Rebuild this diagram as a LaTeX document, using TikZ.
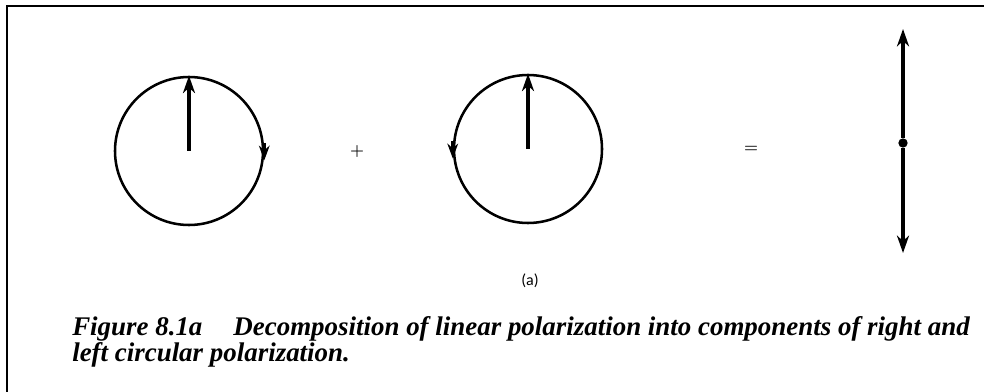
\documentclass[tikz,border=0pt]{standalone}
\usepackage{fontspec}
\setmainfont{Latin Modern Roman}
\newfontfamily\capfont{Liberation Serif}
\newfontfamily\labfont{Carlito}
\usetikzlibrary{arrows.meta}

\begin{document}
\begin{tikzpicture}[x=0.75pt, y=-0.75pt,
    ring/.style={draw, circle, line width=1.9pt, minimum size=111pt, inner sep=0pt},
    vec/.style={line width=2.8pt, -{Stealth[length=13pt, width=9pt, inset=4pt]}},
    turn/.style={line width=1.9pt, -{Stealth[length=11pt, width=8pt, inset=3.5pt]}},
    dot/.style={circle, fill, inner sep=0pt, minimum size=7pt},
    sign/.style={font=\large\bfseries, inner sep=0pt}]
      \useasboundingbox (0,0) rectangle (984,392);
      \draw[line width=1.8pt] (7,392) -- (7,6) -- (984,6);
      % right and left circular components
      \node[ring] (right) at (189,151) {};
      \node[ring] (left) at (528,149) {};
      \draw[vec] (right.center) -- (right.north);
      \draw[vec] (left.center) -- (left.north);
      \draw[turn] ([yshift=6pt]right.east) -- ([yshift=-7pt]right.east);
      \draw[turn] ([yshift=6pt]left.west) -- ([yshift=-7pt]left.west);
      \node[sign] (plus) at (357,152) {+};
      \node[sign] (eq) at (751,149) {=};
      % linear polarization
      \node[dot] (mid) at (903,143) {};
      \coordinate (up) at (903,29);
      \coordinate (down) at (903,253);
      \draw[vec] (mid) -- (up);
      \draw[vec] (mid) -- (down);
      \node[font=\labfont\fontsize{12}{14}\selectfont] (sub) at (530,281) {(a)};
      \node[anchor=north west, align=left, inner sep=0pt,
        font=\capfont\bfseries\itshape\fontsize{20.2}{17.3}\selectfont] (cap) at (72,316)
        {Figure 8.1a\hspace{0.9em} Decomposition of linear polarization into components of right and\\
         left circular polarization.};
\end{tikzpicture}
\end{document}
